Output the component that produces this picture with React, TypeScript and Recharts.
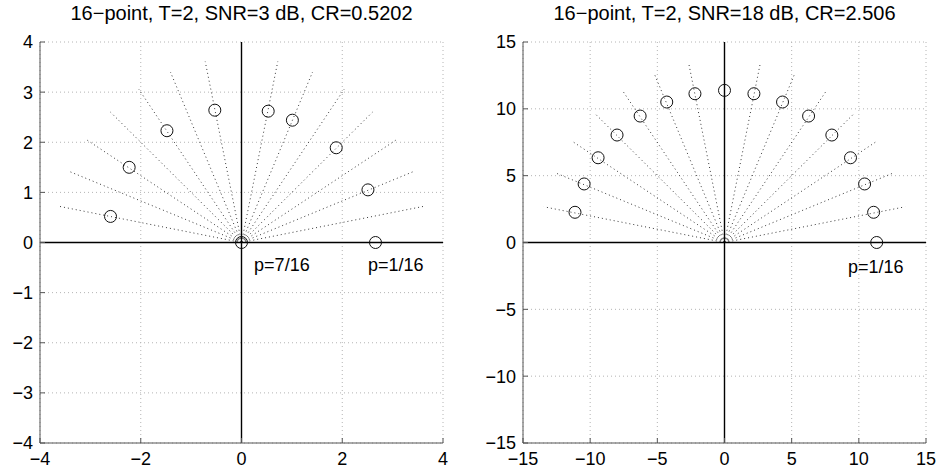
import React from 'react';
import { ScatterChart, Scatter, XAxis, YAxis, CartesianGrid, ReferenceLine } from 'recharts';

// ---------- text ----------
const leftTitle = '16\u2212point, T=2, SNR=3 dB, CR=0.5202';
const rightTitle = '16\u2212point, T=2, SNR=18 dB, CR=2.506';

// ---------- ticks ----------
const leftXTicks = [-4, -2, 0, 2, 4];
const leftYTicks = [-4, -3, -2, -1, 0, 1, 2, 3, 4];
const rightTicks = [-15, -10, -5, 0, 5, 10, 15];

// ---------- left panel points ----------
const leftPointsX = [-2.6, -2.23, -1.48, -0.53, 0.53, 1.01, 1.88, 2.51, 2.66, 0];
const leftPointsY = [0.52, 1.5, 2.23, 2.64, 2.62, 2.44, 1.89, 1.05, 0, 0];

// left panel guide-ray end points (15 directions)
const leftRayX = [3.61, 3.4, 3.06, 2.6, 2.04, 1.41, 0.72, 0, -0.72, -1.41, -2.04, -2.6, -3.06, -3.4, -3.61];
const leftRayY = [0.72, 1.41, 2.04, 2.6, 3.06, 3.4, 3.61, 3.68, 3.61, 3.4, 3.06, 2.6, 2.04, 1.41, 0.72];

const leftLabelText = ['p=7/16', 'p=1/16'];
const leftLabelX = [0.25, 2.51];
const leftLabelY = [-0.45, -0.45];

// ---------- right panel points ----------
const rightPointsX = [11.33, 11.1, 10.43, 9.38, 7.99, 6.26, 4.32, 2.19, 0, -2.2, -4.3, -6.28, -8.0, -9.41, -10.45, -11.13];
const rightPointsY = [0, 2.26, 4.38, 6.34, 8.04, 9.46, 10.51, 11.13, 11.38, 11.13, 10.51, 9.46, 8.04, 6.34, 4.38, 2.26];

const rightRayX = [13.44, 12.66, 11.39, 9.69, 7.61, 5.24, 2.67, 0, -2.67, -5.24, -7.61, -9.69, -11.39, -12.66, -13.44];
const rightRayY = [2.67, 5.24, 7.61, 9.69, 11.39, 12.66, 13.44, 13.7, 13.44, 12.66, 11.39, 9.69, 7.61, 5.24, 2.67];

const rightLabelText = ['p=1/16'];
const rightLabelX = [9.2];
const rightLabelY = [-1.83];

// ---------- styling ----------
const FONT = 'Arial, "Liberation Sans", Helvetica, sans-serif';
const TICK_FS = 18;
const FRAME = '#555';

const fmt = (v: number) => (v < 0 ? '\u2212' + Math.abs(v) : String(v));

const Ring = (p: any) => (
  <circle cx={p.cx} cy={p.cy} r={6} fill="none" stroke="#111" strokeWidth={1} />
);

const LabelShape = (p: any) => (
  <text x={p.cx} y={p.cy} dominantBaseline="central" textAnchor="start" fontSize={TICK_FS} fontFamily={FONT} fill="#000">
    {p.payload.label}
  </text>
);

const zip = (xs: number[], ys: number[]) => xs.map((x, i) => ({ x, y: ys[i] }));

type PanelProps = {
  left: number;
  yAxisWidth: number;
  marginRight: number;
  domain: [number, number];
  xTicks: number[];
  yTicks: number[];
  points: { x: number; y: number }[];
  rays: { x: number; y: number }[];
  labels: { x: number; y: number; label: string }[];
  title: string;
};

const Panel = ({ left, yAxisWidth, marginRight, domain, xTicks, yTicks, points, rays, labels, title }: PanelProps) => {
  const W = 469;
  const H = 471;
  const plotLeft = yAxisWidth;
  const plotRight = W - marginRight;
  const center = (plotLeft + plotRight) / 2;
  const tickStyle = { fontSize: TICK_FS, fontFamily: FONT, fill: '#000' };
  return (
    <div style={{ position: 'absolute', left, top: 0, width: W, height: H }}>
      <div
        style={{
          position: 'absolute',
          left: center - 250,
          width: 500,
          top: 1,
          textAlign: 'center',
          fontFamily: FONT,
          fontSize: 20,
          lineHeight: '25px',
          color: '#000',
          whiteSpace: 'nowrap',
        }}
      >
        {title}
      </div>
      <ScatterChart width={W} height={H} margin={{ top: 42, right: marginRight, bottom: 0, left: 0 }}>
        <CartesianGrid stroke="#b4b4b4" strokeDasharray="1 3" strokeWidth={1} />
        <XAxis
          type="number"
          dataKey="x"
          domain={domain}
          ticks={xTicks}
          allowDataOverflow
          height={28}
          tickSize={-5}
          tickMargin={14}
          tickFormatter={fmt}
          tick={tickStyle}
          axisLine={{ stroke: FRAME }}
          tickLine={{ stroke: FRAME }}
          interval={0}
        />
        <YAxis
          type="number"
          dataKey="y"
          domain={domain}
          ticks={yTicks}
          allowDataOverflow
          width={yAxisWidth}
          tickSize={-5}
          tickMargin={12}
          tickFormatter={fmt}
          tick={tickStyle}
          axisLine={{ stroke: FRAME }}
          tickLine={{ stroke: FRAME }}
          interval={0}
        />
        <XAxis
          xAxisId="top"
          orientation="top"
          type="number"
          dataKey="x"
          domain={domain}
          ticks={xTicks}
          allowDataOverflow
          height={0}
          tickSize={-5}
          tick={false}
          axisLine={{ stroke: FRAME }}
          tickLine={{ stroke: FRAME }}
        />
        <YAxis
          yAxisId="right"
          orientation="right"
          type="number"
          dataKey="y"
          domain={domain}
          ticks={yTicks}
          allowDataOverflow
          width={0}
          tickSize={-5}
          tick={false}
          axisLine={{ stroke: FRAME }}
          tickLine={{ stroke: FRAME }}
        />
        {rays.map((r, i) => (
          <ReferenceLine
            key={'ray' + i}
            segment={[{ x: 0, y: 0 }, { x: r.x, y: r.y }]}
            stroke="#222"
            strokeWidth={0.9}
            strokeDasharray="1 3"
            ifOverflow="visible"
          />
        ))}
        <ReferenceLine x={0} stroke="#000" strokeWidth={1.4} />
        <ReferenceLine y={0} stroke="#000" strokeWidth={1.4} />
        <Scatter data={points} shape={Ring} isAnimationActive={false} />
        <Scatter data={labels} shape={LabelShape} isAnimationActive={false} />
      </ScatterChart>
    </div>
  );
};

export default function App() {
  const leftPoints = zip(leftPointsX, leftPointsY);
  const leftRays = zip(leftRayX, leftRayY);
  const leftLabels = leftLabelText.map((label, i) => ({ x: leftLabelX[i], y: leftLabelY[i], label }));
  const rightPoints = zip(rightPointsX, rightPointsY);
  const rightRays = zip(rightRayX, rightRayY);
  const rightLabels = rightLabelText.map((label, i) => ({ x: rightLabelX[i], y: rightLabelY[i], label }));
  return (
    <div style={{ position: 'absolute', left: 0, top: 0, width: 938, height: 471, background: '#fff', overflow: 'hidden' }}>
      <Panel
        left={0}
        yAxisWidth={40}
        marginRight={26}
        domain={[-4, 4]}
        xTicks={leftXTicks}
        yTicks={leftYTicks}
        points={leftPoints}
        rays={leftRays}
        labels={leftLabels}
        title={leftTitle}
      />
      <Panel
        left={469}
        yAxisWidth={54}
        marginRight={12}
        domain={[-15, 15]}
        xTicks={rightTicks}
        yTicks={rightTicks}
        points={rightPoints}
        rays={rightRays}
        labels={rightLabels}
        title={rightTitle}
      />
    </div>
  );
}
